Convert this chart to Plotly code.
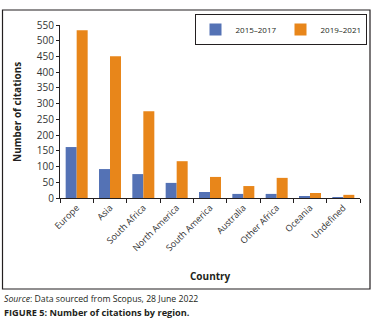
import plotly.graph_objects as go

regions = ["Europe", "Asia", "South Africa", "North America", "South America",
           "Australia", "Other Africa", "Oceania", "Undefined"]
cit_2015_2017 = [162, 92, 76, 48, 19, 13, 13, 6, 3]
cit_2019_2021 = [533, 451, 276, 117, 67, 38, 64, 16, 10]
series_names = ["2015\u20132017", "2019\u20132021"]
y_ticks = list(range(0, 551, 50))

FONT = "Open Sans"
DARK = "#231f20"

fig = go.Figure()
fig.add_trace(go.Bar(x=regions, y=cit_2015_2017, name=series_names[0],
                     marker=dict(color="#5472b5", line=dict(width=0))))
fig.add_trace(go.Bar(x=regions, y=cit_2019_2021, name=series_names[1],
                     marker=dict(color="#e8861a", line=dict(width=0))))

W, H = 374, 328
L, R, T, B = 60, 14, 25, 130
pw, ph = W - L - R, H - T - B

def px(x):
    return (x - L) / pw

def py(y):
    return (H - B - y) / ph

fig.update_layout(
    width=W, height=H,
    margin=dict(l=L, r=R, t=T, b=B, pad=0, autoexpand=False),
    paper_bgcolor="white", plot_bgcolor="white",
    barmode="group", bargap=0.34, bargroupgap=0,
    font=dict(family=FONT, color=DARK, size=9),
    showlegend=True,
    legend=dict(orientation="h", x=px(366.5), xanchor="right", y=py(14), yanchor="top",
                bordercolor=DARK, borderwidth=1, font=dict(size=8, family=FONT, color=DARK),
                bgcolor="white", itemwidth=30, tracegroupgap=0,
                entrywidth=40, entrywidthmode="pixels",
                traceorder="normal"),
    xaxis=dict(showline=True, linecolor=DARK, linewidth=1, ticks="outside",
               tickson="boundaries", ticklen=4, tickcolor=DARK, tickangle=-45,
               tickfont=dict(size=9, family=FONT, color="#333"), showgrid=False),
    yaxis=dict(range=[0, 550], tickvals=y_ticks, showline=True, linecolor=DARK,
               linewidth=1, ticks="outside", ticklen=3, tickcolor=DARK,
               tickfont=dict(size=10, family=FONT, color="#333"), showgrid=False,
               zeroline=False),
)

fig.add_shape(type="rect", xref="paper", yref="paper",
              x0=px(2.5), x1=px(370), y0=py(289), y1=py(10),
              line=dict(color=DARK, width=1.2), layer="below")

fig.add_annotation(text="<b>Number of citations</b>", xref="paper", yref="paper",
                   x=px(17), y=py(112), textangle=-90, showarrow=False,
                   font=dict(size=10, family=FONT, color=DARK),
                   xanchor="center", yanchor="middle")
fig.add_annotation(text="<b>Country</b>", xref="paper", yref="paper",
                   x=px(210), y=py(276), showarrow=False,
                   font=dict(size=10, family=FONT, color=DARK),
                   xanchor="center", yanchor="middle")
fig.add_annotation(text="<i>Source</i>: Data sourced from Scopus, 28 June 2022",
                   xref="paper", yref="paper", x=px(2), y=py(299), showarrow=False,
                   font=dict(size=8.7, family=FONT, color=DARK),
                   xanchor="left", yanchor="middle")
fig.add_annotation(text="<b>FIGURE 5: Number of citations by region.</b>",
                   xref="paper", yref="paper", x=px(2), y=py(312), showarrow=False,
                   font=dict(size=9.2, family=FONT, color=DARK),
                   xanchor="left", yanchor="middle")

fig.write_html("out.html", config={"displayModeBar": False},
               post_script="document.body.style.margin='0';")
